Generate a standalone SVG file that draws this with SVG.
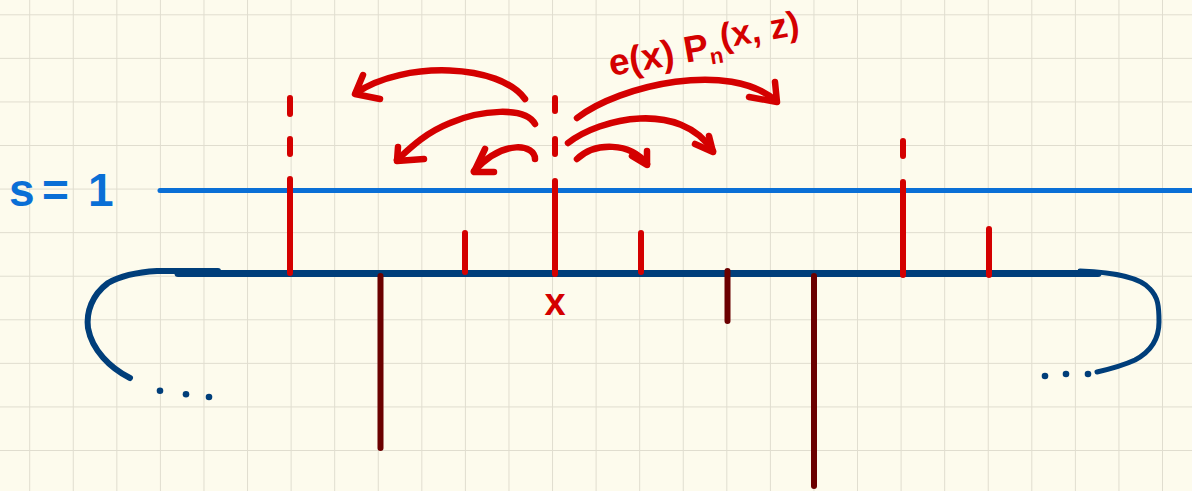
<svg xmlns="http://www.w3.org/2000/svg" width="1192" height="491" viewBox="0 0 1192 491">
<defs>
<pattern id="grid" x="29.2" y="14.3" width="43.57" height="43.57" patternUnits="userSpaceOnUse">
<path d="M0,0 H43.57 M0,0 V43.57" fill="none" stroke="#e0ddcf" stroke-width="2"/>
</pattern>
<style>
.red{stroke:#d40000;stroke-width:6;stroke-linecap:round;fill:none;stroke-linejoin:round}
.dred{stroke:#6b0000;stroke-width:6;stroke-linecap:round;fill:none}
.navy{stroke:#003e7a;stroke-linecap:round;fill:none;stroke-linejoin:round}
.arr{stroke:#d40000;stroke-width:6.5;stroke-linecap:round;stroke-linejoin:round;fill:none}
.lbl{font-family:"Liberation Sans",Arial,sans-serif;font-weight:bold;fill:#d40000}
</style>
</defs>
<rect width="1192" height="491" fill="#fdfbed"/>
<rect width="1192" height="491" fill="url(#grid)"/>

<g id="s-level">
<line x1="160" y1="190.5" x2="1192" y2="190.5" stroke="#0a6fd6" stroke-width="5" stroke-linecap="round"/>
<text x="9 42 88" y="206" font-family="'Liberation Sans',Arial,sans-serif" font-weight="bold" font-size="46" fill="#0a6fd6">s=1</text>
</g>

<g id="baseline">
<path class="navy" stroke-width="7" d="M178,273.5 H1098"/>
<path class="navy" stroke-width="6" d="M218,271 L157,271 C140,272 120,276 108,283 C92,295 86,312 88,328 C92,350 110,368 130,378"/>
<path class="navy" stroke-width="5" d="M1080,271 C1110,272 1140,277 1150,289 C1158,297 1159,306 1159,322 C1159,340 1150,352 1135,360 C1122,366 1110,369 1097,372"/>
<g fill="#003e7a">
<circle cx="160" cy="390.7" r="3.3"/><circle cx="186" cy="394.3" r="3.3"/><circle cx="209" cy="397" r="3.3"/>
<circle cx="1045" cy="376" r="3.3"/><circle cx="1066" cy="374" r="3.3"/><circle cx="1088" cy="374" r="3.3"/>
</g>
</g>

<g id="bars-up">
<path class="red" d="M290,98 V114 M290,139 V154 M290,179 V273"/>
<path class="red" d="M465,233 V272"/>
<path class="red" d="M555,98 V111 M555,139 V154 M555,181 V274"/>
<path class="red" d="M641,233 V272"/>
<path class="red" d="M903,141 V156 M903,182 V275"/>
<path class="red" d="M989,229 V275"/>
</g>

<g id="bars-down">
<path class="dred" d="M380.5,276 V448"/>
<path class="dred" d="M727.5,271 V321"/>
<path class="dred" d="M814,276 V486"/>
</g>

<g id="connectors">
<path class="arr" d="M525,99 C500,64 405,60 356,93"/>
<path class="arr" d="M363,75 L355,94 L380,99"/>
<path class="arr" d="M535,124 C525,106 480,110 450,123 C425,133 410,148 397,160"/>
<path class="arr" d="M398,147 L397,161 L424,159"/>
<path class="arr" d="M535,159 C535,145 505,138 474,171"/>
<path class="arr" d="M485,149 L474,172 L494,172"/>
<path class="arr" d="M577,118 C620,85 730,60 776,101"/>
<path class="arr" d="M775,82 L777,102 L749,97"/>
<path class="arr" d="M568,143 C600,118 680,100 713,151"/>
<path class="arr" d="M709,136 L713,152 L695,144" stroke-width="8"/>
<path class="arr" d="M577,159 C595,142 630,142 647,164"/>
<path class="arr" d="M647,151 L647,165 L632,156"/>
</g>

<g id="x-label">
<text class="lbl" x="555" y="315" font-size="38" text-anchor="middle">x</text>
</g>

<g id="rate-label">
<text class="lbl" font-size="37" transform="translate(611,76) rotate(-10)">e(x) P<tspan font-size="22" dy="6">n</tspan><tspan font-size="35" dy="-14">(x, z)</tspan></text>
</g>
</svg>
